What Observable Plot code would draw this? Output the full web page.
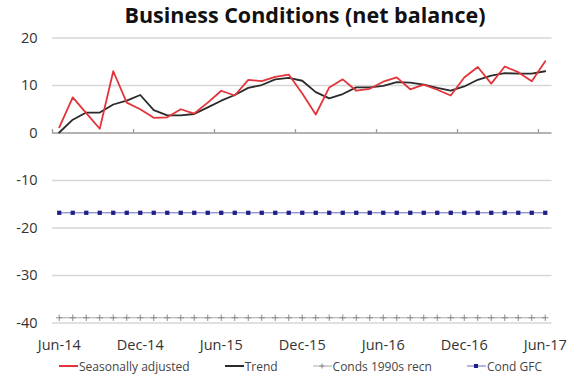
<!DOCTYPE html>
<html><head><meta charset="utf-8">
<script src="https://cdn.jsdelivr.net/npm/d3@7"></script>
<script src="https://cdn.jsdelivr.net/npm/@observablehq/plot@0.6"></script>
<style>
body{margin:0;background:#fff;font-family:"Open Sans",sans-serif;width:580px;height:384px;overflow:hidden;}
#title{height:30px;line-height:30px;font-size:21.5px;font-weight:bold;text-align:center;padding-left:30px;color:#111;}
#legend{display:flex;gap:35px;padding-left:59px;font-size:12px;color:#444;align-items:center;height:22px;}
#legend .item{display:flex;align-items:center;white-space:nowrap;}
#legend svg{margin-right:1px;}
</style>
</head><body>
<div id="title">Business Conditions (net balance)</div>
<div id="chart"></div>
<div id="legend"></div>
<script>
// Monthly observations Jun-14 .. Jun-17 (37 months)
const seasonal = [1.2, 7.5, 4.2, 0.9, 13.0, 6.4, 5.0, 3.2, 3.3, 5.0, 4.1, 6.4, 8.9, 7.9, 11.2, 10.9, 11.8, 12.3, 8.3, 3.9, 9.6, 11.3, 8.9, 9.3, 10.8, 11.7, 9.2, 10.2, 9.1, 7.9, 11.7, 13.9, 10.4, 14.0, 12.8, 10.9, 15.1];
const trend = [0.1, 2.8, 4.3, 4.3, 6.0, 6.8, 8.0, 4.8, 3.7, 3.7, 4.0, 5.4, 6.8, 8.0, 9.5, 10.1, 11.3, 11.6, 11.0, 8.6, 7.3, 8.2, 9.6, 9.6, 9.9, 10.7, 10.6, 10.2, 9.5, 8.9, 9.8, 11.2, 12.1, 12.6, 12.5, 12.5, 13.0];
const conds1990s = [-38.9, -38.9, -38.9, -38.9, -38.9, -38.9, -38.9, -38.9, -38.9, -38.9, -38.9, -38.9, -38.9, -38.9, -38.9, -38.9, -38.9, -38.9, -38.9, -38.9, -38.9, -38.9, -38.9, -38.9, -38.9, -38.9, -38.9, -38.9, -38.9, -38.9, -38.9, -38.9, -38.9, -38.9, -38.9, -38.9, -38.9];
const condGFC = [-16.8, -16.8, -16.8, -16.8, -16.8, -16.8, -16.8, -16.8, -16.8, -16.8, -16.8, -16.8, -16.8, -16.8, -16.8, -16.8, -16.8, -16.8, -16.8, -16.8, -16.8, -16.8, -16.8, -16.8, -16.8, -16.8, -16.8, -16.8, -16.8, -16.8, -16.8, -16.8, -16.8, -16.8, -16.8, -16.8, -16.8];
const xTickIndex = [0, 6, 12, 18, 24, 30, 36];
const xTickLabels = ["Jun-14", "Dec-14", "Jun-15", "Dec-15", "Jun-16", "Dec-16", "Jun-17"];
const axisTickMarks = [-0.5, 5.5, 11.5, 17.5, 23.5, 29.5, 35.5];
const yTicks = [-40, -30, -20, -10, 0, 10, 20];
const legendLabels = ["Seasonally adjusted", "Trend", "Conds 1990s recn", "Cond GFC"];

const RED = "#e4343b", BLACK = "#2b2b2b", GREY = "#a8a8a8", NAVY = "#1f1f88";
const xi = (d, i) => i;
const tickUp = {draw(ctx) { ctx.moveTo(0, 0); ctx.lineTo(0, -4); }};

const chart = Plot.plot({
  width: 580,
  height: 325,
  marginLeft: 52,
  marginRight: 28.5,
  marginTop: 7.5,
  marginBottom: 32.5,
  style: {fontSize: "14.5px", fontFamily: "Open Sans", color: "#333", background: "white", overflow: "visible"},
  x: {type: "linear", domain: [-0.5, 36.5], ticks: xTickIndex, tickFormat: (d) => xTickLabels[xTickIndex.indexOf(d)], tickSize: 0, tickPadding: 17, label: null},
  y: {domain: [-40, 20], ticks: yTicks, tickFormat: d => `${d}`, tickSize: 0, tickPadding: 15, label: null},
  marks: [
    Plot.ruleY(yTicks.filter(d => d !== 0), {stroke: "#d6d6d6", strokeWidth: 1.5}),
    Plot.ruleY([0], {stroke: "#9a9a9a", strokeWidth: 1.5}),
    Plot.dot(axisTickMarks, {x: d => d, y: () => 0, symbol: tickUp, stroke: "#9a9a9a", strokeWidth: 1.3, fill: "none"}),
    Plot.line(conds1990s, {x: xi, y: d => d, stroke: GREY, strokeWidth: 1}),
    Plot.dot(conds1990s, {x: xi, y: d => d, symbol: "plus", r: 2.2, stroke: "#8a8a8a", strokeWidth: 1}),
    Plot.line(condGFC, {x: xi, y: d => d, stroke: "#6a6ac0", strokeWidth: 1}),
    Plot.dot(condGFC, {x: xi, y: d => d, symbol: "square", r: 2.4, fill: NAVY, stroke: "none"}),
    Plot.line(trend, {x: xi, y: d => d, stroke: BLACK, strokeWidth: 1.8}),
    Plot.line(seasonal, {x: xi, y: d => d, stroke: RED, strokeWidth: 1.8})
  ]
});
document.getElementById("chart").appendChild(chart);

// Legend
const legendStyles = [
  {stroke: RED, width: 2, marker: null},
  {stroke: BLACK, width: 2, marker: null},
  {stroke: GREY, width: 1, marker: "plus", mcolor: "#8a8a8a"},
  {stroke: "#6a6ac0", width: 1, marker: "square", mcolor: NAVY}
];
const legend = document.getElementById("legend");
legendLabels.forEach((lab, k) => {
  const s = legendStyles[k];
  const item = document.createElement("div");
  item.className = "item";
  let m = "";
  if (s.marker === "plus") m = `<path d="M9,6.5V11.5M6.5,9H11.5" stroke="${s.mcolor}" stroke-width="1"/>`;
  if (s.marker === "square") m = `<rect x="7" y="7" width="4" height="4" fill="${s.mcolor}"/>`;
  item.innerHTML = `<svg width="19" height="18"><line x1="0" x2="19" y1="9" y2="9" stroke="${s.stroke}" stroke-width="${s.width}"/>${m}</svg><span>${lab}</span>`;
  legend.appendChild(item);
});
</script>
</body></html>
